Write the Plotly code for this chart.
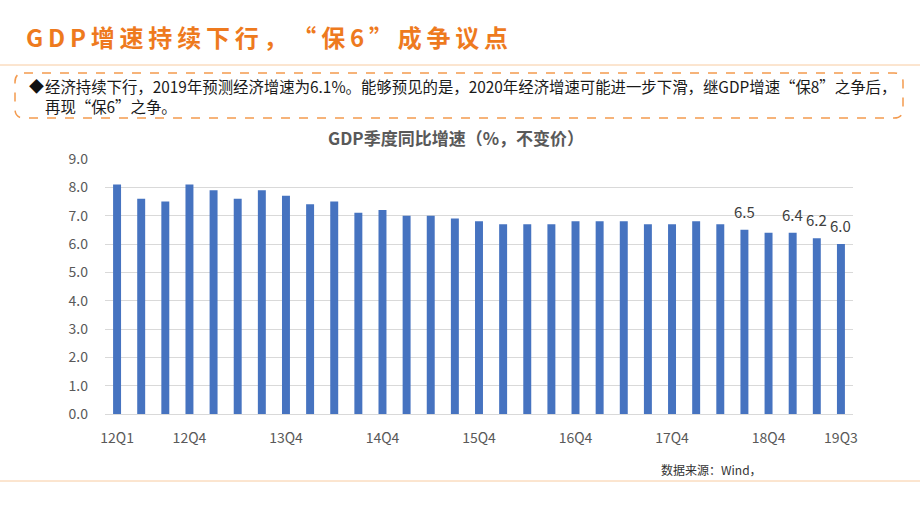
import plotly.graph_objects as go

# ---- data ----
quarters = [f"{y}Q{q}" for y in range(12, 20) for q in range(1, 5)][:31]
gdp_growth = [8.1, 7.6, 7.5, 8.1, 7.9, 7.6, 7.9, 7.7, 7.4, 7.5, 7.1, 7.2,
              7.0, 7.0, 6.9, 6.8, 6.7, 6.7, 6.7, 6.8, 6.8, 6.8, 6.7, 6.7,
              6.8, 6.7, 6.5, 6.4, 6.4, 6.2, 6.0]
labeled_quarters = ["18Q3", "19Q1", "19Q2", "19Q3"]
tick_quarters = ["12Q1", "12Q4", "13Q4", "14Q4", "15Q4", "16Q4", "17Q4", "18Q4", "19Q3"]

page_title = "GDP增速持续下行，“保6”成争议点"
chart_title = "GDP季度同比增速（%，不变价）"
note_line1 = "经济持续下行，2019年预测经济增速为6.1%。能够预见的是，2020年经济增速可能进一步下滑，继GDP增速“保8”之争后，"
note_line2 = "再现“保6”之争。"
source_text = "数据来源：Wind，"

# ---- layout helpers (pixel -> paper) ----
W, H = 920, 518
L, R, T, B = 105, 853, 159, 414
PW, PH = R - L, B - T


def px(x):
    return (x - L) / PW


def py(y):
    return (B - y) / PH


FONT = "Noto Sans CJK SC, Microsoft YaHei, sans-serif"
ORANGE = "#EE7A1E"

fig = go.Figure()
fig.add_trace(go.Bar(
    x=quarters, y=gdp_growth,
    marker=dict(color="#4673C0", line=dict(width=0)),
    hoverinfo="x+y",
))

annotations = []
# data labels
for q, v in zip(quarters, gdp_growth):
    if q in labeled_quarters:
        annotations.append(dict(
            x=q, y=v, xref="x", yref="y", text=f"{v:.1f}", showarrow=False,
            yanchor="bottom", yshift=6,
            font=dict(family=FONT, size=15, color="#404040"),
        ))

# page title with letter spacing
spaced_title = "\u2009".join(page_title)
annotations.append(dict(
    x=px(24), y=py(37), xref="paper", yref="paper", text=f"<b>{spaced_title}</b>",
    showarrow=False, xanchor="left", yanchor="middle",
    font=dict(family=FONT, size=24, color=ORANGE),
))
# note box text
annotations.append(dict(
    x=px(27), y=py(86), xref="paper", yref="paper", text="◆",
    showarrow=False, xanchor="left", yanchor="middle",
    font=dict(family=FONT, size=15, color="#111111"),
))
annotations.append(dict(
    x=px(43), y=py(86), xref="paper", yref="paper", text=note_line1,
    showarrow=False, xanchor="left", yanchor="middle",
    font=dict(family=FONT, size=15.4, color="#1a1a1a"),
))
annotations.append(dict(
    x=px(43), y=py(106), xref="paper", yref="paper", text=note_line2,
    showarrow=False, xanchor="left", yanchor="middle",
    font=dict(family=FONT, size=15.4, color="#1a1a1a"),
))
# chart title
annotations.append(dict(
    x=px(456), y=py(137), xref="paper", yref="paper", text=f"<b>{chart_title}</b>",
    showarrow=False, xanchor="center", yanchor="middle",
    font=dict(family=FONT, size=17, color="#595959"),
))
# source
annotations.append(dict(
    x=px(659), y=py(469), xref="paper", yref="paper", text=source_text,
    showarrow=False, xanchor="left", yanchor="middle",
    font=dict(family=FONT, size=12, color="#333333"),
))

# rounded dashed box
x0, x1, y0, y1, r = 15, 903, 73, 118, 9
rx, ry = r / PW, r / PH
X0, X1, Y0, Y1 = px(x0), px(x1), py(y0), py(y1)
path = (f"M {X0+rx},{Y0} L {X1-rx},{Y0} Q {X1},{Y0} {X1},{Y0-ry} "
        f"L {X1},{Y1+ry} Q {X1},{Y1} {X1-rx},{Y1} "
        f"L {X0+rx},{Y1} Q {X0},{Y1} {X0},{Y1+ry} "
        f"L {X0},{Y0-ry} Q {X0},{Y0} {X0+rx},{Y0} Z")
shapes = [
    dict(type="path", path=path, xref="paper", yref="paper",
         line=dict(color="#F39A4E", width=1.5, dash="dash")),
    dict(type="line", xref="paper", yref="paper", x0=px(0), x1=px(920), y0=py(65), y1=py(65),
         line=dict(color="#F8CBA0", width=1)),
    dict(type="line", xref="paper", yref="paper", x0=px(0), x1=px(920), y0=py(481), y1=py(481),
         line=dict(color="#F8CBA0", width=1)),
]

fig.update_layout(
    width=W, height=H,
    margin=dict(l=L, r=W - R, t=T, b=H - B, pad=0),
    paper_bgcolor="white", plot_bgcolor="white",
    bargap=0.67,
    showlegend=False,
    annotations=annotations,
    shapes=shapes,
    font=dict(family=FONT),
    xaxis=dict(
        type="category", categoryorder="array", categoryarray=quarters,
        range=[-0.5, len(quarters) - 0.5],
        tickmode="array", tickvals=tick_quarters, ticktext=tick_quarters,
        showgrid=False, showline=True, linecolor="#D9D9D9", linewidth=1,
        ticks="", ticklabelstandoff=11,
        tickfont=dict(family=FONT, size=14, color="#595959"),
    ),
    yaxis=dict(
        range=[0, 9], dtick=1, tickformat=".1f",
        showgrid=True, gridcolor="#D9D9D9", gridwidth=1,
        zeroline=True, zerolinecolor="#D9D9D9", zerolinewidth=1,
        showline=False, ticks="", ticklabelstandoff=16,
        tickfont=dict(family=FONT, size=14, color="#595959"),
    ),
)

fig.write_html("out.html")
